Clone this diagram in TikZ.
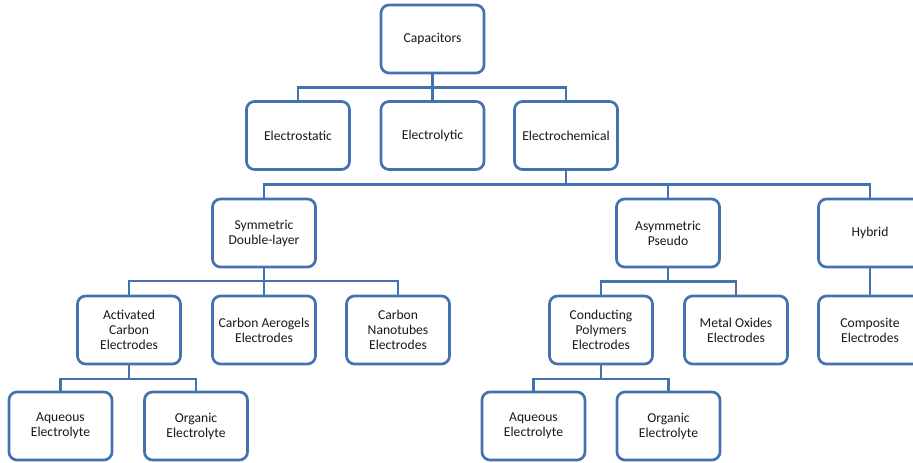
\documentclass[tikz,border=0pt]{standalone}
\usepackage{fontspec}
\setmainfont{Carlito}
\definecolor{boxblue}{RGB}{68,114,176}
\begin{document}
\begin{tikzpicture}[x=1pt,y=-1pt,
  box/.style={draw=boxblue,line width=2.7pt,rounded corners=8pt,fill=white,
    minimum width=103pt,minimum height=68pt,inner sep=1pt,align=center,
    font=\fontsize{13.6}{15}\selectfont,text=black!90},
  conn/.style={draw=boxblue,line width=2.7pt}]
\useasboundingbox (0,0) rectangle (913,463);
% level 0
\node[box] (cap) at (432.5,39) {Capacitors};
% level 1
\node[box] (es) at (298,135.5) {Electrostatic};
\node[box] (el) at (432.5,135.5) {Electrolytic};
\node[box] (ec) at (566,135.5) {Electrochemical};
% level 2
\node[box] (sym) at (264,233) {Symmetric\\Double-layer};
\node[box] (asy) at (668,233) {Asymmetric\\Pseudo};
\node[box] (hyb) at (870,233) {Hybrid};
% level 3
\node[box] (act) at (129,330) {Activated\\Carbon\\Electrodes};
\node[box] (aer) at (264,330) {Carbon Aerogels\\Electrodes};
\node[box] (nan) at (398,330) {Carbon\\Nanotubes\\Electrodes};
\node[box] (con) at (601,330) {Conducting\\Polymers\\Electrodes};
\node[box] (met) at (736,330) {Metal Oxides\\Electrodes};
\node[box] (com) at (870,330) {Composite\\Electrodes};
% level 4
\node[box] (aq1) at (60.5,426) {Aqueous\\Electrolyte};
\node[box] (or1) at (196,426) {Organic\\Electrolyte};
\node[box] (aq2) at (533.5,426) {Aqueous\\Electrolyte};
\node[box] (or2) at (668.5,426) {Organic\\Electrolyte};
% buses
\coordinate (b0) at (432.5,87.5);
\coordinate (b1) at (566,184.5);
\coordinate (b2) at (264,281);
\coordinate (b3) at (668,281.5);
\coordinate (b4) at (129,379);
\coordinate (b5) at (601,379);
% connectors
\path[conn] (cap.south) -- (b0);
\path[conn] (es.north) -- (es.north |- b0) -- (ec.north |- b0) -- (ec.north);
\path[conn] (el.north) -- (b0);
\path[conn] (ec.south) -- (b1);
\path[conn] (sym.north) -- (sym.north |- b1) -- (hyb.north |- b1) -- (hyb.north);
\path[conn] (asy.north) -- (asy.north |- b1);
\path[conn] (sym.south) -- (b2);
\path[conn] (act.north) -- (act.north |- b2) -- (nan.north |- b2) -- (nan.north);
\path[conn] (aer.north) -- (b2);
\path[conn] (asy.south) -- (b3);
\path[conn] (con.north) -- (con.north |- b3) -- (met.north |- b3) -- (met.north);
\path[conn] (hyb.south) -- (com.north);
\path[conn] (act.south) -- (b4);
\path[conn] (aq1.north) -- (aq1.north |- b4) -- (or1.north |- b4) -- (or1.north);
\path[conn] (con.south) -- (b5);
\path[conn] (aq2.north) -- (aq2.north |- b5) -- (or2.north |- b5) -- (or2.north);
\end{tikzpicture}
\end{document}
